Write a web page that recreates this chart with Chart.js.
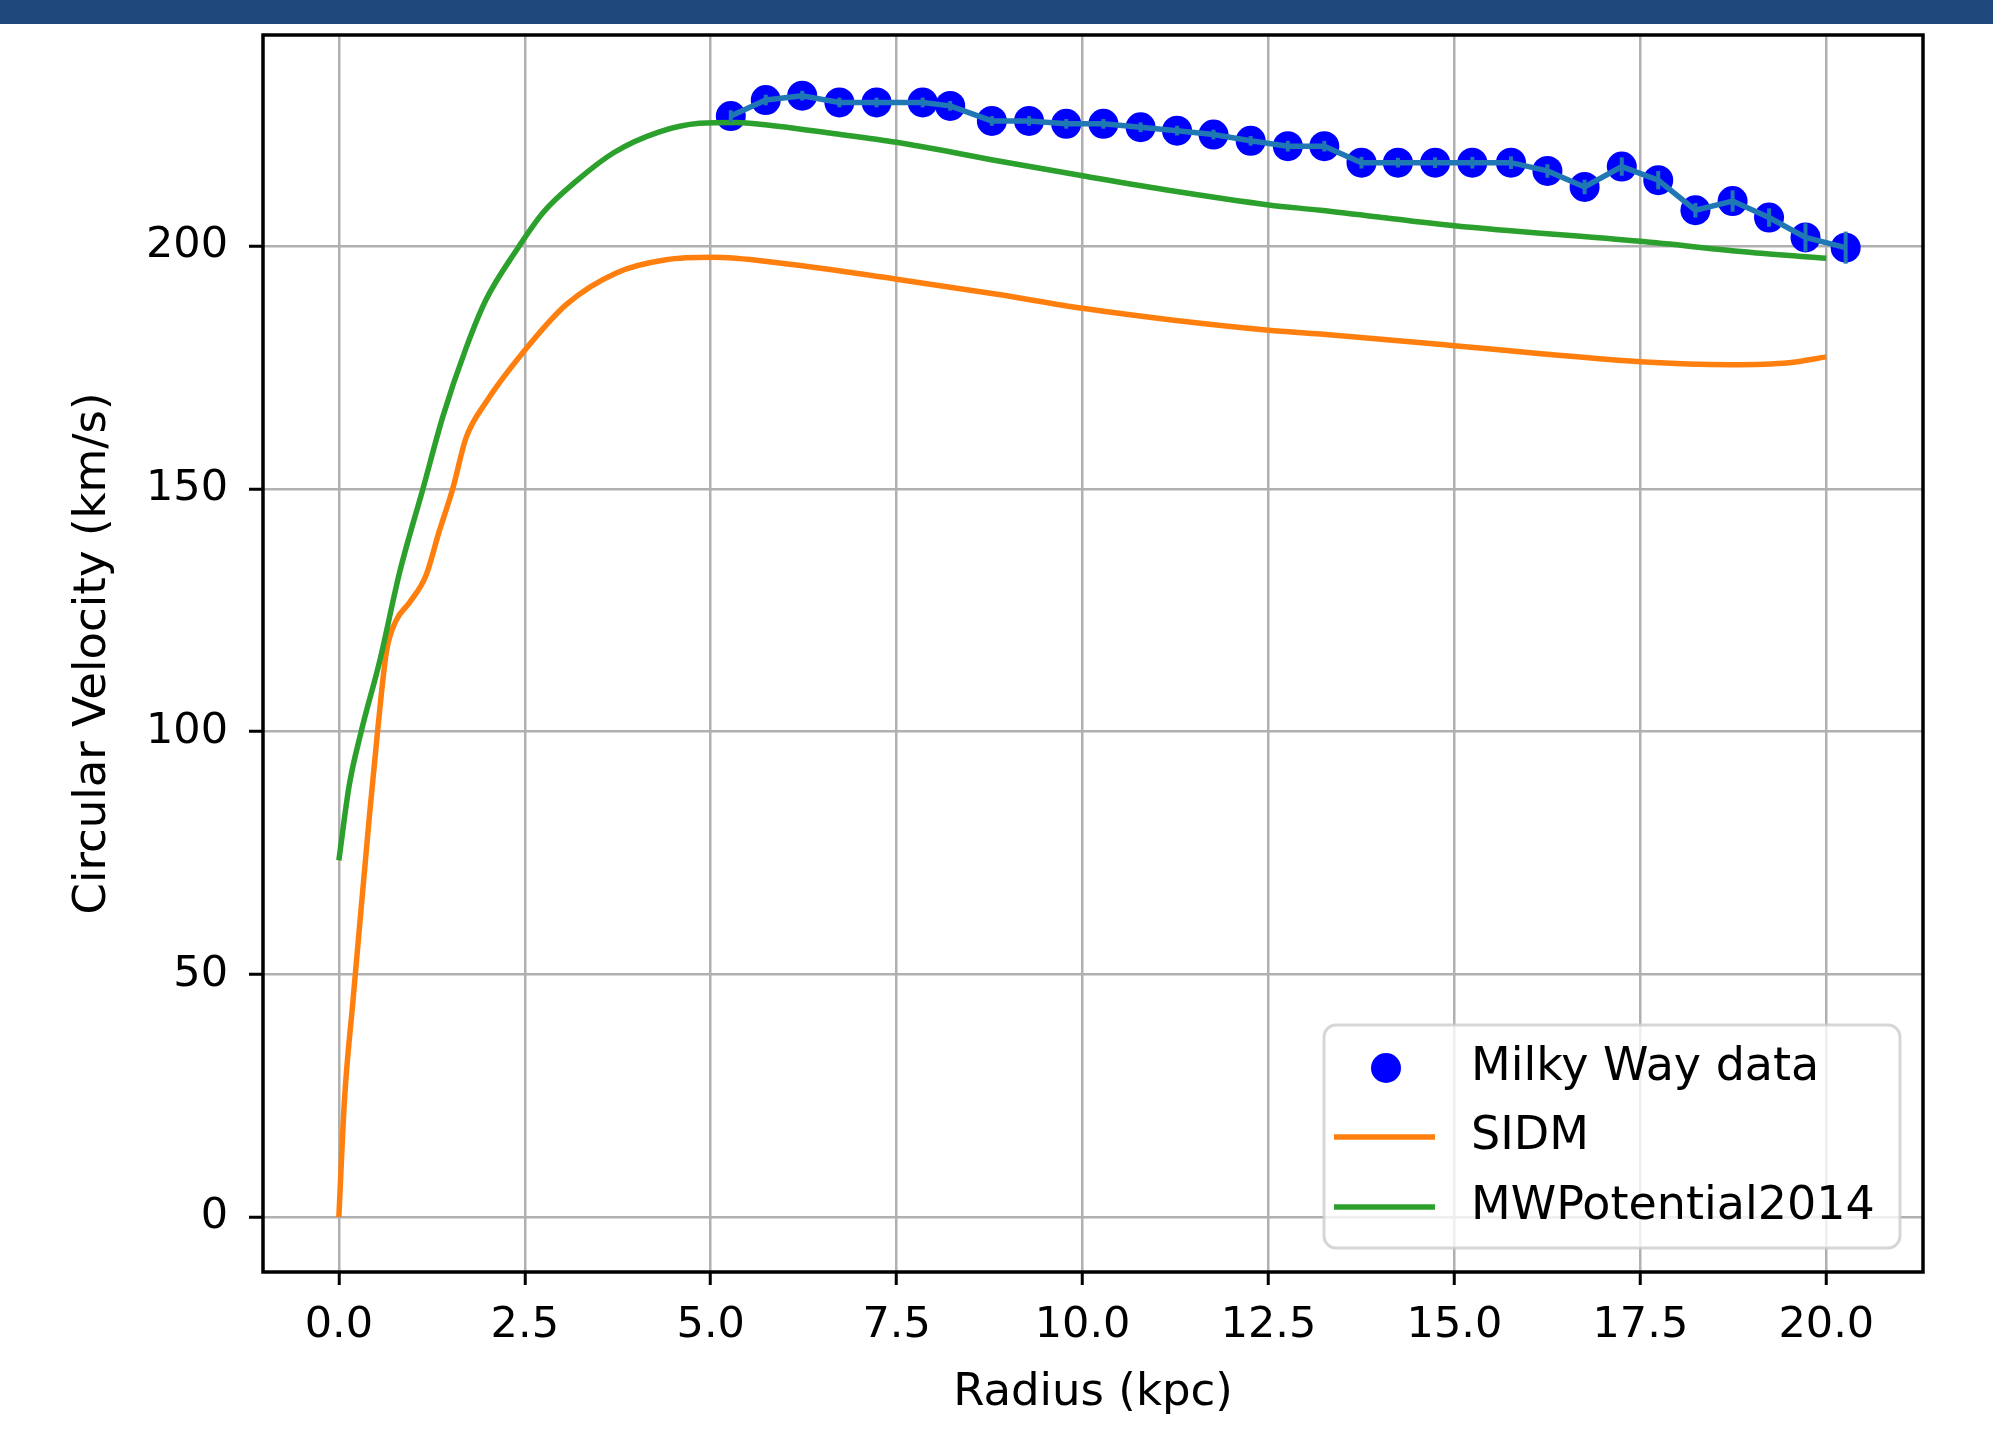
<!DOCTYPE html>
<html>
<head>
<meta charset="utf-8">
<script src="https://cdn.jsdelivr.net/npm/chart.js@4.4.1/dist/chart.umd.min.js"></script>
<style>
  html, body { margin: 0; padding: 0; background: #fff; }
  #wrap { position: relative; width: 1993px; height: 1432px; }
  #banner { position: absolute; left: 0; top: 0; width: 1993px; height: 24px; background: #1f497d; }
</style>
</head>
<body>
<div id="wrap">
  <canvas id="chart" width="1993" height="1432"></canvas>
  <div id="banner"></div>
</div>
<script>
// tick values
const xTicks = [0, 2.5, 5, 7.5, 10, 12.5, 15, 17.5, 20];
const yTicks = [0, 50, 100, 150, 200];

// Milky Way rotation curve data (radius kpc, velocity km/s, error)
const mwDataR = [5.27, 5.74, 6.23, 6.73, 7.23, 7.85, 8.22, 8.78, 9.28, 9.78, 10.28, 10.78, 11.27, 11.76, 12.26, 12.76,
                 13.25, 13.75, 14.24, 14.74, 15.24, 15.76, 16.25, 16.75, 17.25, 17.74, 18.24, 18.74, 19.23, 19.72, 20.26];
const mwDataV = [226.8, 230.1, 231.0, 229.6, 229.6, 229.6, 228.9, 225.8, 225.8, 225.2, 225.2, 224.5, 223.8, 223.0, 221.7, 220.6,
                 220.6, 217.2, 217.2, 217.2, 217.2, 217.2, 215.5, 212.2, 216.4, 213.6, 207.4, 209.3, 205.9, 201.8, 199.7];
const mwDataErr = [1.2, 1.1, 1.0, 1.0, 1.0, 1.0, 1.0, 1.0, 1.0, 1.0, 1.0, 1.0, 1.0, 1.0, 1.0, 1.1,
                   1.1, 1.2, 1.0, 1.1, 1.2, 1.3, 1.4, 1.5, 1.9, 1.9, 1.5, 2.2, 1.9, 2.9, 3.3];

// SIDM model curve
const sidmR = [0, 0.075, 0.19, 0.25, 0.41, 0.52, 0.64, 0.77, 0.95, 1.17, 1.35, 1.53, 1.71, 1.98, 2.47, 3.06, 3.73, 4.4,
               5.03, 5.9, 7.5, 8.85, 10.0, 11.2, 12.5, 13.2, 15.0, 16.2, 17.5, 18.7, 19.5, 20.0];
const sidmV = [0, 24, 44.6, 55, 82.5, 100, 116.5, 122.9, 126.6, 132.1, 141.3, 150, 160.5, 167.9, 178, 188, 194.5, 197.2,
               197.7, 196.6, 193.2, 190.1, 187.2, 184.8, 182.7, 181.9, 179.5, 177.8, 176.2, 175.6, 176.0, 177.2];

// MWPotential2014 curve
const mw14R = [0, 0.14, 0.3, 0.55, 0.82, 1.13, 1.4, 1.71, 1.98, 2.38, 2.75, 3.2, 3.7, 4.3, 4.85, 5.35, 5.9, 6.6, 7.5, 8.85,
               10.0, 11.2, 12.5, 13.2, 15.0, 17.5, 19.0, 20.0];
const mw14V = [73.5, 89, 100, 114.6, 133, 150, 165, 179, 189, 199, 207, 213.5, 219.3, 223.5, 225.3, 225.5, 224.7, 223.3, 221.4, 217.6,
               214.5, 211.4, 208.5, 207.4, 204.2, 201.0, 198.7, 197.5];

const toPoints = (xs, ys) => xs.map((x, i) => ({ x: x, y: ys[i] }));

Chart.defaults.font.family = "'DejaVu Sans', sans-serif";

// vertical error bars for datasets that carry an "errors" array
const errorBars = {
    id: 'errorBars',
    afterDatasetsDraw(chart) {
        const ctx = chart.ctx;
        const xs = chart.scales.x, ys = chart.scales.y;
        chart.data.datasets.forEach(ds => {
            if (!ds.errors) return;
            ctx.save();
            ctx.strokeStyle = ds.borderColor;
            ctx.lineWidth = 4;
            ds.data.forEach((p, i) => {
                const px = xs.getPixelForValue(p.x);
                ctx.beginPath();
                ctx.moveTo(px, ys.getPixelForValue(p.y - ds.errors[i]));
                ctx.lineTo(px, ys.getPixelForValue(p.y + ds.errors[i]));
                ctx.stroke();
            });
            ctx.restore();
        });
    }
};

// black box round the plot area
const frame = {
    id: 'frame',
    afterDatasetsDraw(chart) {
        const { ctx, chartArea: a } = chart;
        ctx.save();
        ctx.strokeStyle = '#000';
        ctx.lineWidth = 3.5;
        ctx.strokeRect(a.left, a.top, a.right - a.left, a.bottom - a.top);
        ctx.restore();
    }
};

// matplotlib style legend in the lower right corner
const legendBox = {
    id: 'legendBox',
    afterDraw(chart) {
        const { ctx, chartArea: a } = chart;
        const w = 576, h = 223;
        const x0 = a.right - 23 - w, y0 = a.bottom - 24 - h;
        ctx.save();
        ctx.beginPath();
        ctx.roundRect(x0, y0, w, h, 12);
        ctx.fillStyle = 'rgba(255,255,255,0.8)';
        ctx.fill();
        ctx.lineWidth = 3;
        ctx.strokeStyle = 'rgba(204,204,204,0.8)';
        ctx.stroke();

        const rows = [43, 112, 182];
        const items = chart.data.datasets.filter(ds => ds.legendMark);
        ctx.font = "46px 'DejaVu Sans'";
        ctx.textBaseline = 'middle';
        ctx.textAlign = 'left';
        items.forEach((ds, i) => {
            const cy = y0 + rows[i];
            if (ds.legendMark === 'dot') {
                ctx.beginPath();
                ctx.arc(x0 + 62, cy, ds.pointRadius, 0, Math.PI * 2);
                ctx.fillStyle = ds.backgroundColor;
                ctx.fill();
            } else {
                ctx.beginPath();
                ctx.moveTo(x0 + 10, cy);
                ctx.lineTo(x0 + 111, cy);
                ctx.strokeStyle = ds.borderColor;
                ctx.lineWidth = ds.borderWidth;
                ctx.stroke();
            }
            ctx.fillStyle = '#000';
            ctx.fillText(ds.label, x0 + 147, cy);
        });
        ctx.restore();
    }
};

const gridStyle = { color: '#b0b0b0', lineWidth: 2.5, tickColor: '#000', tickWidth: 3 };

new Chart(document.getElementById('chart'), {
    type: 'scatter',
    data: {
        datasets: [
            {
                label: 'Milky Way data',
                data: toPoints(mwDataR, mwDataV),
                backgroundColor: '#0000ff',
                pointBackgroundColor: '#0000ff',
                pointBorderWidth: 0,
                borderWidth: 0,
                pointRadius: 15,
                pointHoverRadius: 15,
                order: 4,
                legendMark: 'dot'
            },
            {
                label: 'SIDM',
                data: toPoints(sidmR, sidmV),
                showLine: true,
                borderColor: '#ff7f0e',
                borderWidth: 5.5,
                pointRadius: 0,
                pointHoverRadius: 0,
                cubicInterpolationMode: 'monotone',
                order: 3,
                legendMark: 'line'
            },
            {
                label: 'MWPotential2014',
                data: toPoints(mw14R, mw14V),
                showLine: true,
                borderColor: '#2ca02c',
                borderWidth: 5.5,
                pointRadius: 0,
                pointHoverRadius: 0,
                cubicInterpolationMode: 'monotone',
                order: 2,
                legendMark: 'line'
            },
            {
                label: '',
                data: toPoints(mwDataR, mwDataV),
                errors: mwDataErr,
                showLine: true,
                borderColor: '#1f77b4',
                borderWidth: 5.5,
                pointRadius: 0,
                pointHoverRadius: 0,
                tension: 0,
                order: 1
            }
        ]
    },
    options: {
        responsive: false,
        animation: false,
        devicePixelRatio: 1,
        layout: { padding: { top: 35, right: 70, left: 0, bottom: 0 } },
        plugins: {
            legend: { display: false },
            tooltip: { enabled: false }
        },
        scales: {
            x: {
                type: 'linear',
                min: -1.02,
                max: 21.3,
                afterBuildTicks: s => { s.ticks = xTicks.map(v => ({ value: v })); },
                afterFit: s => { s.height = 160; s.paddingLeft = 0; s.paddingRight = 0; },
                ticks: {
                    callback: v => v.toFixed(1),
                    font: { size: 43 },
                    color: '#000',
                    padding: 15,
                    maxRotation: 0,
                    autoSkip: false
                },
                grid: Object.assign({ tickLength: 13 }, gridStyle),
                border: { display: false },
                title: {
                    display: true,
                    text: 'Radius (kpc)',
                    font: { size: 45, lineHeight: 1.2 },
                    color: '#000',
                    padding: { top: 0, bottom: 12 }
                }
            },
            y: {
                type: 'linear',
                min: -11.3,
                max: 243.5,
                afterBuildTicks: s => { s.ticks = yTicks.map(v => ({ value: v })); },
                afterFit: s => { s.width = 263; s.paddingTop = 0; s.paddingBottom = 0; },
                ticks: {
                    font: { size: 43 },
                    color: '#000',
                    padding: 21
                },
                grid: Object.assign({ tickLength: 14 }, gridStyle),
                border: { display: false },
                title: {
                    display: true,
                    text: 'Circular Velocity (km/s)',
                    font: { size: 45, lineHeight: 1.2 },
                    color: '#000',
                    padding: { top: 66, bottom: 0 }
                }
            }
        }
    },
    plugins: [errorBars, frame, legendBox]
});
</script>
</body>
</html>
